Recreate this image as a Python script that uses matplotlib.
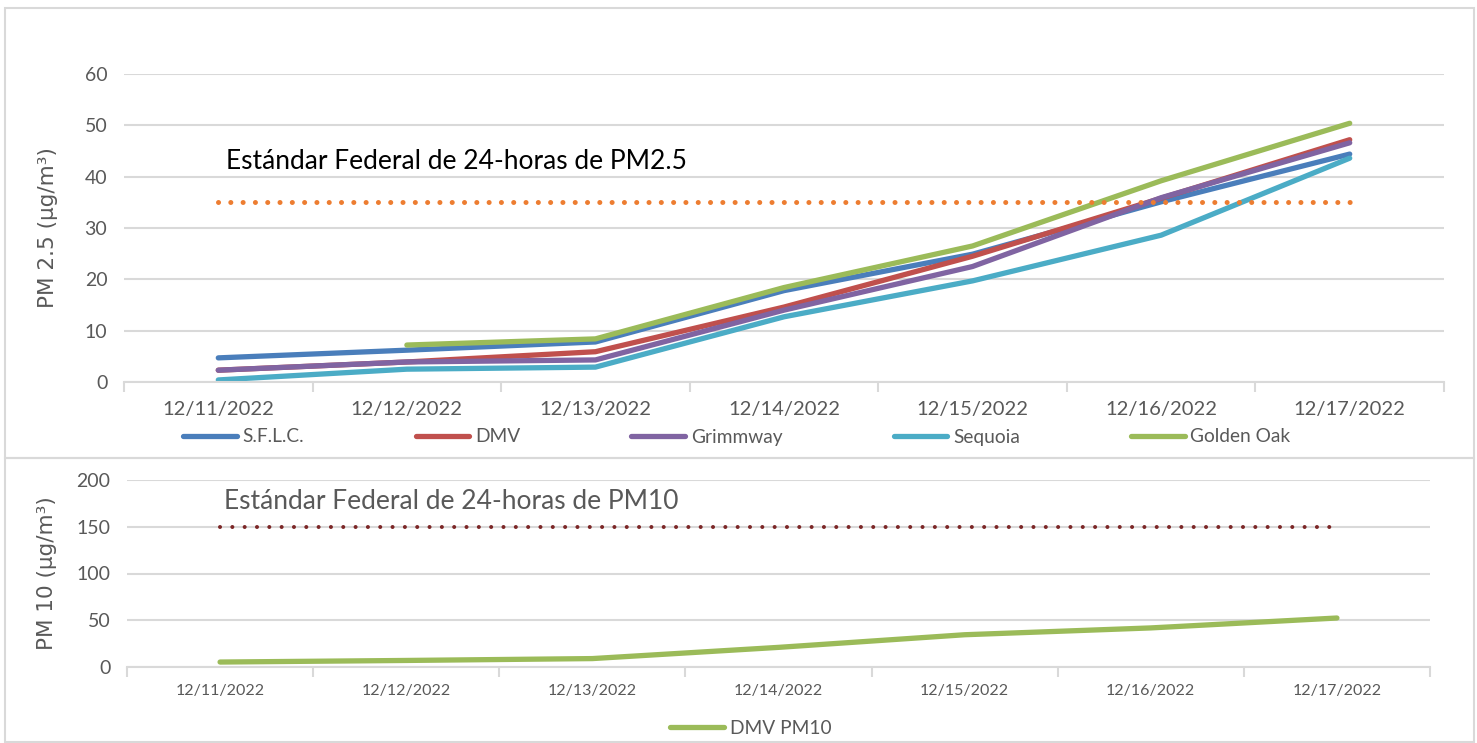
import numpy as np
import matplotlib
matplotlib.use("Agg")
import matplotlib.pyplot as plt
from matplotlib.patches import Rectangle

# ---------------- data ----------------
dates = ["12/11/2022", "12/12/2022", "12/13/2022", "12/14/2022",
         "12/15/2022", "12/16/2022", "12/17/2022"]
sflc = [4.7, 6.2, 7.8, 17.8, 24.9, 35.1, 44.4]
dmv = [2.3, 3.9, 5.9, 14.6, 24.5, 35.8, 47.2]
grimmway = [2.3, 3.9, 4.3, 14.0, 22.5, 35.9, 46.6]
sequoia = [0.4, 2.5, 2.9, 12.7, 19.7, 28.6, 43.6]
golden_oak = [np.nan, 7.2, 8.4, 18.4, 26.5, 39.2, 50.4]
pm25_standard = [35] * 7
pm10_dmv = [5.3, 7.0, 9.0, 21.0, 34.5, 41.8, 52.4]
pm10_standard = [150] * 7

pm25_yticks = [0, 10, 20, 30, 40, 50, 60]
pm10_yticks = [0, 50, 100, 150, 200]

# ---------------- style ----------------
W, H = 1477, 743
fig = plt.figure(figsize=(W / 100, H / 100), dpi=100)
FONT = "Lato"
GRAY = "#595959"
GRID = "#d9d9d9"

def fx(px):
    return px / W

def fy(py):
    return 1 - py / H

# panel borders
fig.patches.append(Rectangle((fx(5), fy(458)), fx(1474) - fx(5), fy(8) - fy(458),
                             transform=fig.transFigure, fill=False,
                             edgecolor=GRID, linewidth=1.5))
fig.patches.append(Rectangle((fx(5), fy(742)), fx(1474) - fx(5), fy(458) - fy(742),
                             transform=fig.transFigure, fill=False,
                             edgecolor=GRID, linewidth=1.5))

x = np.arange(len(dates))

def style_axes(ax, yticks, ylim, tick_fs, xtick_fs, xpad):
    ax.set_xlim(-0.5, len(dates) - 0.5)
    ax.set_ylim(*ylim)
    ax.set_yticks(yticks)
    ax.set_yticklabels([str(v) for v in yticks], fontsize=tick_fs, color=GRAY, family=FONT)
    ax.set_xticks(x)
    ax.set_xticklabels(dates, fontsize=xtick_fs, color=GRAY, family=FONT)
    ax.set_xticks(np.arange(-0.5, len(dates)), minor=True)
    ax.tick_params(axis="x", which="major", length=0, pad=xpad)
    ax.tick_params(axis="x", which="minor", length=7, color=GRID, width=1.5)
    ax.tick_params(axis="y", length=0, pad=12)
    for s in ["top", "right", "left"]:
        ax.spines[s].set_visible(False)
    ax.spines["bottom"].set_color(GRID)
    ax.spines["bottom"].set_linewidth(1.5)
    ax.grid(axis="y", color=GRID, linewidth=1.5)
    ax.set_axisbelow(True)

# ---------------- top panel ----------------
ax1 = fig.add_axes([fx(124), fy(382), fx(1444) - fx(124), fy(74) - fy(382)])
style_axes(ax1, pm25_yticks, (0, 60), 14, 14.5, 14)

series = [("S.F.L.C.", sflc, "#4a7ebb"),
          ("DMV", dmv, "#c0504d"),
          ("Grimmway", grimmway, "#8064a2"),
          ("Sequoia", sequoia, "#4bacc6"),
          ("Golden Oak", golden_oak, "#9bbb59")]
handles = []
for name, vals, col in series:
    h, = ax1.plot(x, vals, color=col, linewidth=3.8, solid_capstyle="round",
                  solid_joinstyle="round", label=name)
    handles.append(h)
ax1.plot(x, pm25_standard, color="#ed7d31", linewidth=3.6,
         linestyle=(0, (0.01, 2.45)), dash_capstyle="round")
ax1.text(0.04, 42.9, "Estándar Federal de 24-horas de PM2.5", fontsize=19,
         color="black", family=FONT, va="center", ha="left")
ax1.set_ylabel("PM 2.5 (μg/m³)", fontsize=15.5, color=GRAY, family="DejaVu Sans")
ax1.yaxis.set_label_coords(-0.050, 0.5)

leg1 = fig.legend(handles=handles, loc="center", bbox_to_anchor=(fx(737), fy(437)),
                  ncol=5, frameon=False, handlelength=2.8, handletextpad=0.3,
                  columnspacing=5.8, prop={"family": FONT, "size": 13.8})
for t in leg1.get_texts():
    t.set_color(GRAY)

# ---------------- bottom panel ----------------
ax2 = fig.add_axes([fx(127), fy(667), fx(1430) - fx(127), fy(480) - fy(667)])
style_axes(ax2, pm10_yticks, (0, 200), 14, 11.5, 12)
h2, = ax2.plot(x, pm10_dmv, color="#9bbb59", linewidth=3.8, solid_capstyle="round",
               label="DMV PM10")
ax2.plot(x, pm10_standard, color="#7b2626", linewidth=2.9,
         linestyle=(0, (0.01, 3.05)), dash_capstyle="round")
ax2.text(0.02, 176.5, "Estándar Federal de 24-horas de PM10", fontsize=19,
         color=GRAY, family=FONT, va="center", ha="left")
ax2.set_ylabel("PM 10 (μg/m³)", fontsize=15.5, color=GRAY, family="DejaVu Sans")
ax2.yaxis.set_label_coords(-0.054, 0.5)

leg2 = fig.legend(handles=[h2], loc="center", bbox_to_anchor=(fx(751), fy(728)),
                  ncol=1, frameon=False, handlelength=2.8, handletextpad=0.3,
                  prop={"family": FONT, "size": 13.8})
for t in leg2.get_texts():
    t.set_color(GRAY)

fig.savefig("out.png", dpi=100)
